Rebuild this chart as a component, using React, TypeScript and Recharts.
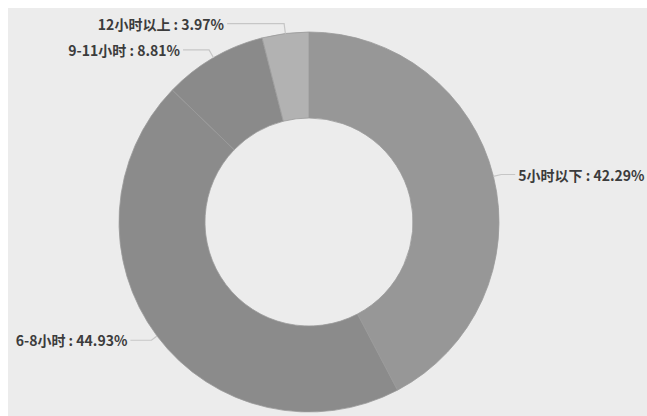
import { PieChart, Pie, Cell } from 'recharts'

const categories = ['5小时以下', '6-8小时', '9-11小时', '12小时以上']
const shares = [42.29, 44.93, 8.81, 3.97]
const colors = ['#979797', '#8b8b8b', '#8a8a8a', '#b2b2b2']
// leader line: radial part and horizontal part, per slice
const lineOut = [8, 7, 9, 10]
const lineLengths = [14, 21, 26, 57]

const data = categories.map((name, i) => ({ name, value: shares[i] }))

const RADIAN = Math.PI / 180

function renderLabel(props: any) {
  const { cx, cy, midAngle, outerRadius, index, name, value } = props
  const cos = Math.cos(-midAngle * RADIAN)
  const sin = Math.sin(-midAngle * RADIAN)
  const sx = cx + outerRadius * cos
  const sy = cy + outerRadius * sin
  const mx = cx + (outerRadius + lineOut[index]) * cos
  const my = cy + (outerRadius + lineOut[index]) * sin
  const dir = cos >= 0 ? 1 : -1
  const ex = mx + dir * lineLengths[index]
  return (
    <g>
      <path
        d={`M${sx},${sy}L${mx},${my}L${ex},${my}`}
        stroke="#c6c6c6"
        strokeWidth={1.2}
        fill="none"
      />
      <text
        x={ex + dir * 3}
        y={my}
        textAnchor={dir > 0 ? 'start' : 'end'}
        dominantBaseline="central"
        fill="#3c3c3c"
        fontSize={14}
        fontWeight={700}
        fontFamily='"Noto Sans CJK SC", "Noto Sans", sans-serif'
      >
        {`${name} : ${value.toFixed(2)}%`}
      </text>
    </g>
  )
}

export default function App() {
  return (
    <div style={{ position: 'absolute', left: 8, top: 8 }}>
      <PieChart
        width={639}
        height={408}
        style={{ background: '#ececec' }}
        margin={{ top: 0, right: 0, bottom: 0, left: 0 }}
      >
        <Pie
          data={data}
          dataKey="value"
          nameKey="name"
          cx={301}
          cy={214}
          innerRadius={104}
          outerRadius={190}
          startAngle={90}
          endAngle={-270}
          stroke="#9a9a9a"
          strokeWidth={0.8}
          label={renderLabel}
          labelLine={false}
          isAnimationActive={false}
        >
          {data.map((entry, i) => (
            <Cell key={entry.name} fill={colors[i]} />
          ))}
        </Pie>
      </PieChart>
    </div>
  )
}
